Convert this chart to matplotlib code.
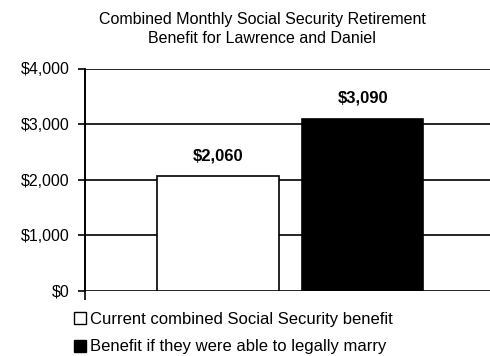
import matplotlib
matplotlib.use("Agg")
import matplotlib.pyplot as plt
from matplotlib.patches import Patch

plt.rcParams['font.family'] = ['Liberation Sans', 'DejaVu Sans']

series = ["Current combined Social Security benefit",
          "Benefit if they were able to legally marry"]
values = [2060, 3090]
value_labels = ["$2,060", "$3,090"]
colors = ["white", "black"]
yticks = [0, 1000, 2000, 3000, 4000]
ytick_labels = ["$0", "$1,000", "$2,000", "$3,000", "$4,000"]
title = "Combined Monthly Social Security Retirement\nBenefit for Lawrence and Daniel"

W, H = 490, 356
fig = plt.figure(figsize=(W / 100, H / 100), dpi=100)
ax = fig.add_axes([85 / W, (H - 290.7) / H, 410 / W, 222.2 / H])

xpos = [0, 1]
width = 0.84
bars = ax.bar(xpos, values, width=width, color=colors, edgecolor="black",
              linewidth=1.2, zorder=3)
for x, v, lab in zip(xpos, values, value_labels):
    ax.annotate(lab, (x, v), xytext=(0, 9.5), textcoords="offset points",
                ha="center", va="bottom", fontsize=12, fontweight="bold")

ax.set_xlim(-0.917, 1.914)
ax.set_ylim(0, 4000)
ax.set_yticks(yticks)
ax.set_yticklabels(ytick_labels, fontsize=11.5)
ax.yaxis.grid(True, color="black", linewidth=1.2, zorder=1)
ax.set_axisbelow(True)
ax.set_xticks([-0.917])
ax.set_xticklabels([""])
ax.tick_params(axis="x", direction="out", length=6.5, width=1.2, color="black")
ax.tick_params(axis="y", direction="out", length=5, width=1.2, color="black", pad=6)
for s in ["top", "right", "bottom"]:
    ax.spines[s].set_visible(False)
ax.spines["left"].set_linewidth(1.4)

fig.text(262 / W, 1 - 29 / H, title, ha="center", va="center",
         fontsize=11.5, linespacing=1.4)

handles = [Patch(facecolor=c, edgecolor="black", linewidth=1.0) for c in colors]
fig.legend(handles, series, loc="upper left", bbox_to_anchor=(74 / W, 1 - 312 / H),
           frameon=False, fontsize=12, handlelength=0.7, handleheight=0.7,
           handletextpad=0.25, labelspacing=0.75, borderaxespad=0, borderpad=0)

fig.savefig("out.png", dpi=100)
